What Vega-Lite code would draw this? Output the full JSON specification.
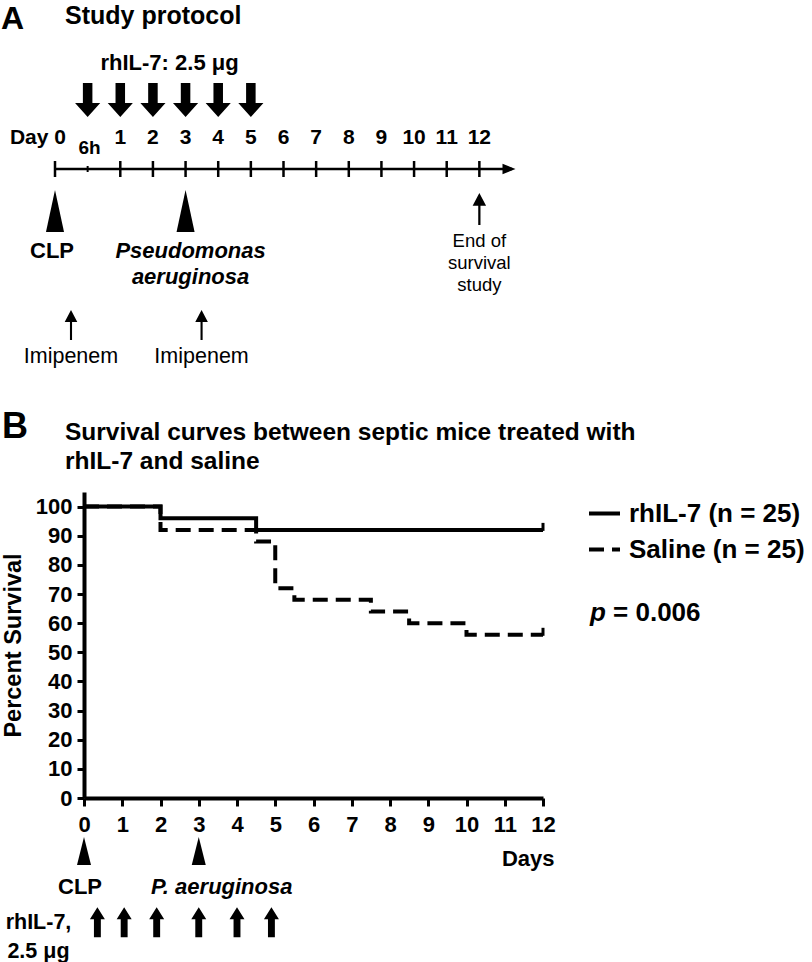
{
  "$schema": "https://vega.github.io/schema/vega-lite/v6.json",
  "autosize": "none",
  "width": 459,
  "height": 306,
  "padding": {"left": 84, "top": 492, "right": 269, "bottom": 164},
  "background": "white",
  "config": {
    "font": "Liberation Sans",
    "view": {"stroke": null},
    "text": {"color": "black"},
    "axis": {"labelOverlap": false, "labelFlush": false, "labelBound": false, "grid": false}
  },
  "datasets": {
    "surv": [
      {"group": "rhIL-7", "day": 0, "survival": 100},
      {"group": "rhIL-7", "day": 2, "survival": 96},
      {"group": "rhIL-7", "day": 4.5, "survival": 92},
      {"group": "rhIL-7", "day": 12, "survival": 92},
      {"group": "Saline", "day": 0, "survival": 100},
      {"group": "Saline", "day": 2, "survival": 92},
      {"group": "Saline", "day": 4.5, "survival": 88},
      {"group": "Saline", "day": 5, "survival": 72},
      {"group": "Saline", "day": 5.5, "survival": 68},
      {"group": "Saline", "day": 7.5, "survival": 64},
      {"group": "Saline", "day": 8.5, "survival": 60},
      {"group": "Saline", "day": 10, "survival": 56},
      {"group": "Saline", "day": 12, "survival": 56}
    ],
    "censor": [
      {"group": "rhIL-7", "day": 12, "survival": 92},
      {"group": "Saline", "day": 12, "survival": 56}
    ],
    "eventsB": [
      {"day": 0, "event": "CLP"},
      {"day": 3, "event": "P. aeruginosa"}
    ],
    "dosesB": [
      {"day": 0.35}, {"day": 1.05}, {"day": 1.9}, {"day": 3}, {"day": 4}, {"day": 4.9}
    ],
    "slotsA": [
      {"slot": "0", "label": "Day 0"},
      {"slot": "6h", "label": "6h"},
      {"slot": "1", "label": "1"},
      {"slot": "2", "label": "2"},
      {"slot": "3", "label": "3"},
      {"slot": "4", "label": "4"},
      {"slot": "5", "label": "5"},
      {"slot": "6", "label": "6"},
      {"slot": "7", "label": "7"},
      {"slot": "8", "label": "8"},
      {"slot": "9", "label": "9"},
      {"slot": "10", "label": "10"},
      {"slot": "11", "label": "11"},
      {"slot": "12", "label": "12"}
    ],
    "lineA": [{"slot": "0"}, {"slot": "end"}],
    "dosesA": [{"slot": "6h"}, {"slot": "1"}, {"slot": "2"}, {"slot": "3"}, {"slot": "4"}, {"slot": "5"}],
    "eventsA": [{"slot": "0", "event": "CLP"}, {"slot": "3", "event": "Pseudomonas aeruginosa"}],
    "imipenem": [{"slot": "0", "drug": "Imipenem"}, {"slot": "3", "drug": "Imipenem"}]
  },
  "layer": [
    {
      "layer": [
        {
          "data": {"name": "surv"},
          "mark": {"type": "line", "interpolate": "step-after", "strokeWidth": 4, "color": "black"},
          "encoding": {
            "x": {
              "field": "day", "type": "quantitative",
              "scale": {"domain": [0, 12], "nice": false, "zero": false},
              "axis": {
                "orient": "bottom", "values": [0,1,2,3,4,5,6,7,8,9,10,11,12], "tickCount": 13,
                "title": "Days", "titleFontSize": 22, "titleFontWeight": "bold", "titleColor": "black",
                "titleAnchor": "end", "titleAlign": "right", "titleBaseline": "middle", "titleX": 470, "titleY": 60,
                "labelFontSize": 22, "labelFontWeight": "bold", "labelColor": "black", "labelPadding": 8,
                "labelFlush": false, "labelOverlap": false,
                "domainColor": "black", "domainWidth": 4, "tickColor": "black", "tickWidth": 3, "tickSize": 8, "grid": false
              }
            },
            "y": {
              "field": "survival", "type": "quantitative",
              "scale": {"domain": [0, 105], "nice": false, "zero": false},
              "axis": {
                "orient": "left", "values": [0,10,20,30,40,50,60,70,80,90,100], "tickCount": 11,
                "title": "Percent Survival", "titleFontSize": 23.5, "titleFontWeight": "bold", "titleColor": "black",
                "titlePadding": 10,
                "labelFontSize": 22, "labelFontWeight": "bold", "labelColor": "black", "labelPadding": 5,
                "labelFlush": false, "labelOverlap": false,
                "domainColor": "black", "domainWidth": 4, "tickColor": "black", "tickWidth": 3, "tickSize": 7, "grid": false
              }
            },
            "strokeDash": {
              "field": "group", "type": "nominal",
              "scale": {"domain": ["rhIL-7", "Saline"], "range": [[1, 0], [15, 8]]},
              "legend": {
                "orient": "none", "legendX": 503, "legendY": 4, "title": null,
                "symbolType": "stroke", "symbolSize": 961, "symbolStrokeWidth": 4, "symbolStrokeColor": "black",
                "labelFontSize": 26, "labelFontWeight": "bold", "labelColor": "black", "labelOffset": 7,
                "rowPadding": 5, "padding": 0, "labelLimit": 400,
                "labelExpr": "datum.label + ' (n = 25)'"
              }
            }
          }
        },
        {
          "data": {"name": "censor"},
          "mark": {"type": "point", "shape": "M0,-1L0,1", "filled": false, "stroke": "black", "strokeWidth": 3, "size": 64, "yOffset": -3, "opacity": 1},
          "encoding": {
            "x": {"field": "day", "type": "quantitative"},
            "y": {"field": "survival", "type": "quantitative"}
          }
        },
        {
          "data": {"name": "eventsB"},
          "mark": {"type": "point", "shape": "M0,-1L0.5,1L-0.5,1Z", "filled": true, "color": "black", "strokeWidth": 0, "size": 784, "opacity": 1},
          "encoding": {
            "x": {"field": "day", "type": "quantitative"},
            "y": {"datum": -18.2, "type": "quantitative"}
          }
        },
        {
          "data": {"name": "eventsB"},
          "transform": [{"filter": "datum.event == 'CLP'"}],
          "mark": {"type": "text", "fontSize": 22, "fontWeight": "bold", "baseline": "middle", "align": "center", "dx": -4},
          "encoding": {
            "x": {"field": "day", "type": "quantitative"},
            "y": {"datum": -30.5, "type": "quantitative"},
            "text": {"field": "event"}
          }
        },
        {
          "data": {"name": "eventsB"},
          "transform": [{"filter": "datum.event != 'CLP'"}],
          "mark": {"type": "text", "fontSize": 22, "fontWeight": "bold", "fontStyle": "italic", "baseline": "middle", "align": "center", "dx": 23},
          "encoding": {
            "x": {"field": "day", "type": "quantitative"},
            "y": {"datum": -30.5, "type": "quantitative"},
            "text": {"field": "event"}
          }
        },
        {
          "data": {"name": "dosesB"},
          "mark": {"type": "point", "shape": "M0,-1L0.5,-0.2L0.23,-0.2L0.23,1L-0.23,1L-0.23,-0.2L-0.5,-0.2Z", "filled": true, "color": "black", "strokeWidth": 0, "size": 900, "opacity": 1},
          "encoding": {
            "x": {"field": "day", "type": "quantitative"},
            "y": {"datum": -42.6, "type": "quantitative"}
          }
        },
        {
          "data": {"values": [{}]},
          "mark": {"type": "text", "text": "rhIL-7,", "fontSize": 21.5, "fontWeight": "bold", "baseline": "middle", "align": "center"},
          "encoding": {
            "x": {"datum": -1.19, "type": "quantitative"},
            "y": {"datum": -42.9, "type": "quantitative"}
          }
        },
        {
          "data": {"values": [{}]},
          "mark": {"type": "text", "text": "2.5 μg", "fontSize": 21.5, "fontWeight": "bold", "baseline": "middle", "align": "center"},
          "encoding": {
            "x": {"datum": -1.19, "type": "quantitative"},
            "y": {"datum": -52.8, "type": "quantitative"}
          }
        },
        {
          "data": {"values": [{}]},
          "mark": {"type": "text", "text": "p", "fontSize": 26, "fontWeight": "bold", "fontStyle": "italic", "baseline": "middle", "align": "left"},
          "encoding": {
            "x": {"datum": 13.23, "type": "quantitative"},
            "y": {"datum": 63.5, "type": "quantitative"}
          }
        },
        {
          "data": {"values": [{}]},
          "mark": {"type": "text", "text": "= 0.006", "fontSize": 26, "fontWeight": "bold", "baseline": "middle", "align": "left", "dx": 23},
          "encoding": {
            "x": {"datum": 13.23, "type": "quantitative"},
            "y": {"datum": 63.5, "type": "quantitative"}
          }
        }
      ]
    },
    {
      "layer": [
        {
          "data": {"name": "slotsA"},
          "transform": [{"filter": "datum.slot != '6h'"}],
          "mark": {"type": "rule", "strokeWidth": 2.5, "color": "black"},
          "encoding": {
            "x": {
              "field": "slot", "type": "ordinal",
              "scale": {"type": "point", "domain": ["0","6h","1","2","3","4","5","6","7","8","9","10","11","12","end"], "range": [-29, 428], "padding": 0},
              "axis": null
            },
            "y": {"datum": -8, "type": "quantitative", "scale": {"domain": [-200, 200], "range": [-123, -523], "nice": false, "zero": false}, "axis": null},
            "y2": {"datum": 8}
          }
        },
        {
          "data": {"name": "slotsA"},
          "transform": [{"filter": "datum.slot == '6h'"}],
          "mark": {"type": "rule", "strokeWidth": 2, "color": "black"},
          "encoding": {
            "x": {"field": "slot", "type": "ordinal", "axis": null},
            "y": {"datum": -3, "type": "quantitative", "axis": null},
            "y2": {"datum": 3}
          }
        },
        {
          "data": {"name": "lineA"},
          "mark": {"type": "line", "strokeWidth": 2.5, "color": "black"},
          "encoding": {
            "x": {"field": "slot", "type": "ordinal", "axis": null},
            "y": {"datum": 0, "type": "quantitative", "axis": null}
          }
        },
        {
          "data": {"values": [{"slot": "end"}]},
          "mark": {"type": "point", "shape": "M1,0L-1,-0.8L-1,0.8Z", "filled": true, "color": "black", "strokeWidth": 0, "size": 169, "opacity": 1, "xOffset": -3},
          "encoding": {
            "x": {"field": "slot", "type": "ordinal", "axis": null},
            "y": {"datum": 0, "type": "quantitative", "axis": null}
          }
        },
        {
          "data": {"name": "dosesA"},
          "mark": {"type": "point", "shape": "M-0.28,-1L0.28,-1L0.28,0.18L0.74,0.18L0,1L-0.74,0.18L-0.28,0.18Z", "filled": true, "color": "black", "strokeWidth": 0, "size": 1156, "opacity": 1},
          "encoding": {
            "x": {"field": "slot", "type": "ordinal", "axis": null},
            "y": {"datum": 69, "type": "quantitative", "axis": null}
          }
        },
        {
          "data": {"name": "slotsA"},
          "transform": [{"filter": "datum.slot != '6h' && datum.slot != '0'"}],
          "mark": {"type": "text", "fontSize": 21, "fontWeight": "bold", "baseline": "middle", "align": "center"},
          "encoding": {
            "x": {"field": "slot", "type": "ordinal", "axis": null},
            "y": {"datum": 31, "type": "quantitative", "axis": null},
            "text": {"field": "label"}
          }
        },
        {
          "data": {"name": "slotsA"},
          "transform": [{"filter": "datum.slot == '0'"}],
          "mark": {"type": "text", "fontSize": 21, "fontWeight": "bold", "baseline": "middle", "align": "right", "dx": 11},
          "encoding": {
            "x": {"field": "slot", "type": "ordinal", "axis": null},
            "y": {"datum": 31, "type": "quantitative", "axis": null},
            "text": {"field": "label"}
          }
        },
        {
          "data": {"name": "slotsA"},
          "transform": [{"filter": "datum.slot == '6h'"}],
          "mark": {"type": "text", "fontSize": 19, "fontWeight": "bold", "baseline": "middle", "align": "center", "dx": 2},
          "encoding": {
            "x": {"field": "slot", "type": "ordinal", "axis": null},
            "y": {"datum": 21, "type": "quantitative", "axis": null},
            "text": {"field": "label"}
          }
        },
        {
          "data": {"name": "eventsA"},
          "mark": {"type": "point", "shape": "M0,-1L0.43,1L-0.43,1Z", "filled": true, "color": "black", "strokeWidth": 0, "size": 1764, "opacity": 1},
          "encoding": {
            "x": {"field": "slot", "type": "ordinal", "axis": null},
            "y": {"datum": -42, "type": "quantitative", "axis": null}
          }
        },
        {
          "data": {"values": [{}]},
          "mark": {"type": "text", "text": "CLP", "fontSize": 22, "fontWeight": "bold", "baseline": "middle", "align": "center", "dx": -3},
          "encoding": {
            "x": {"datum": "0", "type": "ordinal", "axis": null},
            "y": {"datum": -82, "type": "quantitative", "axis": null}
          }
        },
        {
          "data": {"values": [{}]},
          "mark": {"type": "text", "text": "Pseudomonas", "fontSize": 22, "fontWeight": "bold", "fontStyle": "italic", "baseline": "middle", "align": "center", "dx": 5},
          "encoding": {
            "x": {"datum": "3", "type": "ordinal", "axis": null},
            "y": {"datum": -82, "type": "quantitative", "axis": null}
          }
        },
        {
          "data": {"values": [{}]},
          "mark": {"type": "text", "text": "aeruginosa", "fontSize": 22, "fontWeight": "bold", "fontStyle": "italic", "baseline": "middle", "align": "center", "dx": 5},
          "encoding": {
            "x": {"datum": "3", "type": "ordinal", "axis": null},
            "y": {"datum": -108, "type": "quantitative", "axis": null}
          }
        },
        {
          "data": {"name": "imipenem"},
          "mark": {"type": "point", "shape": "M0,-1L0.42,-0.2L0.07,-0.2L0.07,1L-0.07,1L-0.07,-0.2L-0.42,-0.2Z", "filled": true, "color": "black", "strokeWidth": 0, "size": 900, "opacity": 1, "xOffset": 16},
          "encoding": {
            "x": {"field": "slot", "type": "ordinal", "axis": null},
            "y": {"datum": -156, "type": "quantitative", "axis": null}
          }
        },
        {
          "data": {"name": "imipenem"},
          "mark": {"type": "text", "fontSize": 21.5, "baseline": "middle", "align": "center", "dx": 16},
          "encoding": {
            "x": {"field": "slot", "type": "ordinal", "axis": null},
            "y": {"datum": -188, "type": "quantitative", "axis": null},
            "text": {"field": "drug"}
          }
        },
        {
          "data": {"values": [{}]},
          "mark": {"type": "point", "shape": "M0,-1L0.42,-0.2L0.07,-0.2L0.07,1L-0.07,1L-0.07,-0.2L-0.42,-0.2Z", "filled": true, "color": "black", "strokeWidth": 0, "size": 1024, "opacity": 1},
          "encoding": {
            "x": {"datum": "12", "type": "ordinal", "axis": null},
            "y": {"datum": -40, "type": "quantitative", "axis": null}
          }
        },
        {
          "data": {"values": [{}]},
          "mark": {"type": "text", "text": "End of", "fontSize": 18.5, "baseline": "middle", "align": "center"},
          "encoding": {
            "x": {"datum": "12", "type": "ordinal", "axis": null},
            "y": {"datum": -72, "type": "quantitative", "axis": null}
          }
        },
        {
          "data": {"values": [{}]},
          "mark": {"type": "text", "text": "survival", "fontSize": 18.5, "baseline": "middle", "align": "center"},
          "encoding": {
            "x": {"datum": "12", "type": "ordinal", "axis": null},
            "y": {"datum": -94, "type": "quantitative", "axis": null}
          }
        },
        {
          "data": {"values": [{}]},
          "mark": {"type": "text", "text": "study", "fontSize": 18.5, "baseline": "middle", "align": "center"},
          "encoding": {
            "x": {"datum": "12", "type": "ordinal", "axis": null},
            "y": {"datum": -116, "type": "quantitative", "axis": null}
          }
        },
        {
          "data": {"values": [{}]},
          "mark": {"type": "text", "text": "A", "fontSize": 32, "fontWeight": "bold", "baseline": "middle", "align": "left", "dx": -54},
          "encoding": {
            "x": {"datum": "0", "type": "ordinal", "axis": null},
            "y": {"datum": 150, "type": "quantitative", "axis": null}
          }
        },
        {
          "data": {"values": [{}]},
          "mark": {"type": "text", "text": "Study protocol", "fontSize": 25, "fontWeight": "bold", "baseline": "middle", "align": "left", "dx": 10},
          "encoding": {
            "x": {"datum": "0", "type": "ordinal", "axis": null},
            "y": {"datum": 153, "type": "quantitative", "axis": null}
          }
        },
        {
          "data": {"values": [{}]},
          "mark": {"type": "text", "text": "rhIL-7: 2.5 μg", "fontSize": 22, "fontWeight": "bold", "baseline": "middle", "align": "center", "dx": -16},
          "encoding": {
            "x": {"datum": "3", "type": "ordinal", "axis": null},
            "y": {"datum": 106, "type": "quantitative", "axis": null}
          }
        },
        {
          "data": {"values": [{}]},
          "mark": {"type": "text", "text": "B", "fontSize": 36, "fontWeight": "bold", "baseline": "middle", "align": "left", "dx": -53},
          "encoding": {
            "x": {"datum": "0", "type": "ordinal", "axis": null},
            "y": {"datum": -258, "type": "quantitative", "axis": null}
          }
        },
        {
          "data": {"values": [{}]},
          "mark": {"type": "text", "text": "Survival curves between septic mice treated with", "fontSize": 24.5, "fontWeight": "bold", "baseline": "middle", "align": "left", "dx": 10},
          "encoding": {
            "x": {"datum": "0", "type": "ordinal", "axis": null},
            "y": {"datum": -264, "type": "quantitative", "axis": null}
          }
        },
        {
          "data": {"values": [{}]},
          "mark": {"type": "text", "text": "rhIL-7 and saline", "fontSize": 24.5, "fontWeight": "bold", "baseline": "middle", "align": "left", "dx": 10},
          "encoding": {
            "x": {"datum": "0", "type": "ordinal", "axis": null},
            "y": {"datum": -293, "type": "quantitative", "axis": null}
          }
        }
      ]
    }
  ],
  "resolve": {"scale": {"x": "independent", "y": "independent"}}
}
